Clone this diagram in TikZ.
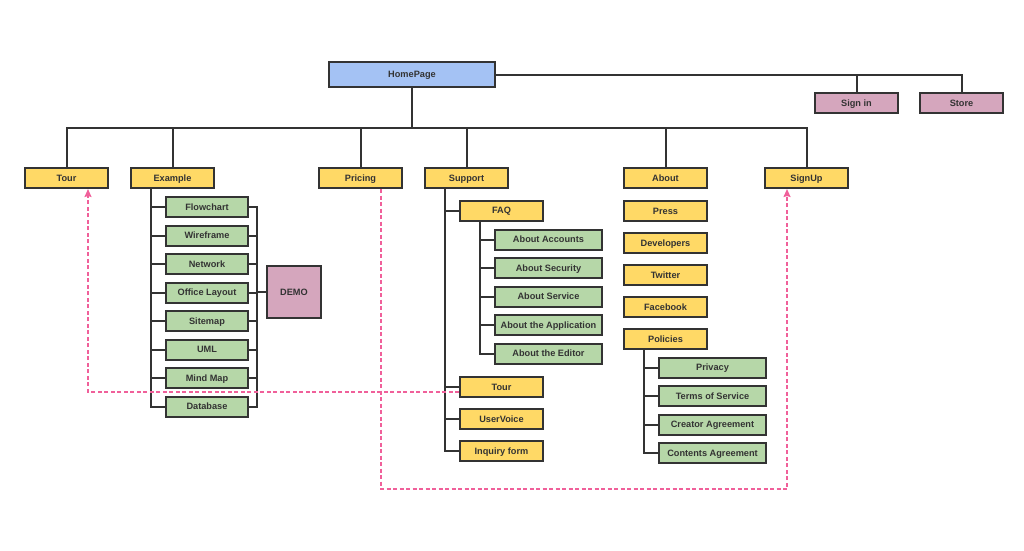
\documentclass[tikz,border=0pt]{standalone}
\usepackage{fontspec}
\setmainfont{Liberation Sans}
\usetikzlibrary{arrows.meta}
\usetikzlibrary{positioning}

\definecolor{pageyellow}{HTML}{FFD966}
\definecolor{subgreen}{HTML}{B6D7A8}
\definecolor{homeblue}{HTML}{A4C2F4}
\definecolor{extrapurple}{HTML}{D5A6BD}
\definecolor{linkpink}{HTML}{F0609A}
\definecolor{inkgrey}{HTML}{333333}

\begin{document}
\begin{tikzpicture}[x=1pt,y=-1pt,node distance=28.5pt,
    box/.style={draw=inkgrey,line width=2pt,minimum height=20pt,inner sep=0pt,
      text=inkgrey,text height=8pt,text depth=1.4pt,
      font=\bfseries\fontsize{9.2}{10}\selectfont},
    page/.style={box,fill=pageyellow,minimum width=83pt},
    sub/.style={box,fill=subgreen,minimum width=82pt},
    wide/.style={box,fill=subgreen,minimum width=107pt},
    extra/.style={box,fill=extrapurple,minimum width=83pt},
    tree/.style={draw=inkgrey,line width=2pt},
    link/.style={draw=linkpink,line width=1.6pt,dash pattern=on 4pt off 2.5pt,
      -{Stealth[length=8pt,width=7pt,inset=1pt]}}]
  \useasboundingbox (0,0) rectangle (1024,550);

  % top
  \node[box,fill=homeblue,minimum width=166pt,minimum height=25pt] (home) at (412,74.5) {HomePage};
  \node[extra] (signin) at (856.5,103) {Sign in};
  \node[extra] (store) at (961.5,103) {Store};

  % first level
  \node[page] (tour) at (66.5,178) {Tour};
  \node[page] (example) at (172.5,178) {Example};
  \node[page] (pricing) at (360.5,178) {Pricing};
  \node[page] (support) at (466.5,178) {Support};
  \node[page] (about) at (665.5,178) {About};
  \node[page] (signup) at (806.5,178) {SignUp};

  % example
  \node[sub] (flow) at (207,207) {Flowchart};
  \node[sub] (wire) [below of=flow] {Wireframe};
  \node[sub] (network) [below of=wire] {Network};
  \node[sub] (office) [below of=network] {Office Layout};
  \node[sub] (sitemap) [below of=office] {Sitemap};
  \node[sub] (uml) [below of=sitemap] {UML};
  \node[sub] (mindmap) [below of=uml] {Mind Map};
  \node[sub] (database) [below of=mindmap] {Database};
  \node[box,fill=extrapurple,minimum width=54pt,minimum height=52pt] (demo) at (294,292) {DEMO};

  % support
  \node[page] (faq) at (501.5,210.5) {FAQ};
  \node[wide] (accounts) at (548.5,239.5) {About Accounts};
  \node[wide] (security) [below of=accounts] {About Security};
  \node[wide] (service) [below of=security] {About Service};
  \node[wide] (application) [below of=service] {About the Application};
  \node[wide] (editor) [below of=application] {About the Editor};
  \node[page] (stour) at (501.5,387) {Tour};
  \node[page] (uservoice) [below of=stour,node distance=32pt] {UserVoice};
  \node[page] (inquiry) [below of=uservoice,node distance=32pt] {Inquiry form};

  % about
  \node[page] (press) at (665.5,211) {Press};
  \node[page] (developers) [below of=press,node distance=32pt] {Developers};
  \node[page] (twitter) [below of=developers,node distance=32pt] {Twitter};
  \node[page] (facebook) [below of=twitter,node distance=32pt] {Facebook};
  \node[page] (policies) [below of=facebook,node distance=32pt] {Policies};
  \node[wide] (privacy) at (712.5,367.5) {Privacy};
  \node[wide] (terms) [below of=privacy] {Terms of Service};
  \node[wide] (creator) [below of=terms] {Creator Agreement};
  \node[wide] (contents) [below of=creator] {Contents Agreement};

  % tree lines
  \coordinate (bus) at (412,128);
  \draw[tree] (home) -- (bus);
  \foreach \n in {tour,example,pricing,support,about,signup}
    \draw[tree] (\n.north) |- (bus);
  \draw[tree] (home.east) -| (store.north);
  \draw[tree] (home.east) -| (signin.north);

  \foreach \n in {flow,wire,network,office,sitemap,uml,mindmap,database}
    \draw[tree] ([xshift=21pt]example.south west) |- (\n.west);
  \coordinate (demojoin) at ([xshift=-9pt]demo.west);
  \foreach \n in {flow,wire,network,office,sitemap,uml,mindmap,database}
    \draw[tree] (\n.east) -| (demojoin);
  \draw[tree] (demojoin) -- (demo.west);

  \foreach \n in {faq,stour,uservoice,inquiry}
    \draw[tree] ([xshift=21pt]support.south west) |- (\n.west);
  \foreach \n in {accounts,security,service,application,editor}
    \draw[tree] ([xshift=21pt]faq.south west) |- (\n.west);
  \foreach \n in {privacy,terms,creator,contents}
    \draw[tree] ([xshift=21pt]policies.south west) |- (\n.west);

  % dashed links
  \draw[link] ([yshift=-5pt]stour.west) -| ([xshift=21.5pt]tour.south);
  \draw[link] ([xshift=20.5pt]pricing.south) -- ++(0,300) -| ([xshift=-19.5pt]signup.south);
\end{tikzpicture}
\end{document}
